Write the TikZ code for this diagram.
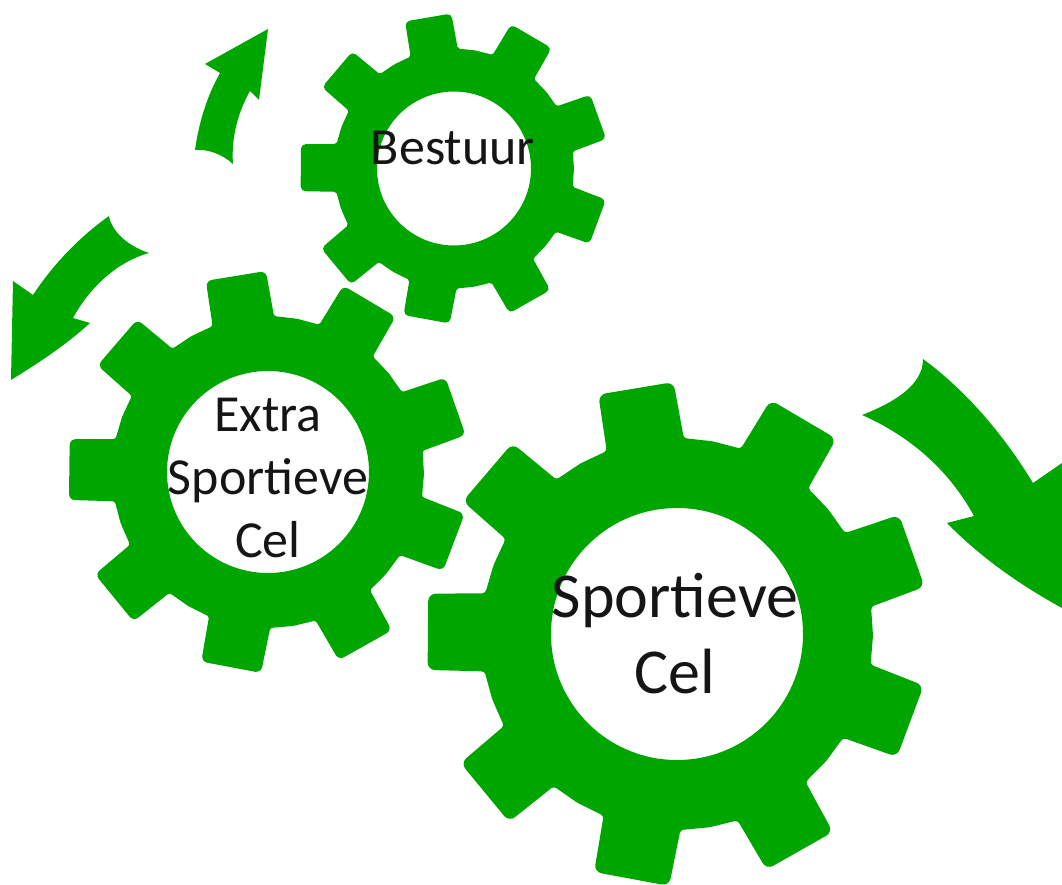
\documentclass[tikz,border=0pt]{standalone}
\usepackage{fontspec}
\setmainfont{Carlito}
\definecolor{gearGreen}{HTML}{00A600}
\definecolor{labelInk}{HTML}{151515}
\tikzset{
  gearbody/.style={fill=gearGreen,even odd rule},
  turnarrow/.style={fill=gearGreen},
  gearlabel/.style={text=labelInk,align=center,inner sep=0pt},
}
% cx, cy, hole radius, tip radius, root radius, rotation
\newcommand{\geardraw}[6]{%
  \begin{scope}[shift={(#1,#2)}]
    \pgfmathsetmacro{\crn}{#4*0.03}
    \pgfmathsetmacro{\crnin}{#4*0.012}
    \fill[gearbody] (-#6-20:#5)
      \foreach \i [evaluate=\i as \a using {-#6+40*\i}] in {0,...,8} {
        [rounded corners=\crnin pt] -- (\a-11.5:#5)
        [rounded corners=\crn pt] -- (\a-8.7:#4) -- (\a+8.7:#4)
        [rounded corners=\crnin pt] -- (\a+11.5:#5) -- (\a+20:#5)
      } -- cycle (0,0) circle[radius=#3];
  \end{scope}%
}
\begin{document}
\begin{tikzpicture}[x=1pt,y=-1pt]
\useasboundingbox (0,0) rectangle (1062,885);
\geardraw{454}{168.5}{77}{155}{120}{179.7}
\geardraw{268}{472}{101}{201}{156}{179.3}
\geardraw{677}{634}{126}{252}{196}{179.5}
% arrows
\fill[turnarrow] (268,29) -- (259,100) -- (250,91)
  .. controls (238,112) and (231,138) .. (233,164)
  .. controls (222,154) and (208,149) .. (195,150)
  .. controls (199,122) and (207,96) .. (220,73)
  -- (205,64) -- cycle;
\fill[turnarrow] (109,216) .. controls (112,232) and (128,246) .. (149,253)
  .. controls (117,262) and (90,287) .. (73,318)
  -- (90,323) .. controls (66,345) and (40,362) .. (11,380)
  -- (13,281) -- (33,295)
  .. controls (52,266) and (78,238) .. (109,216) -- cycle;
\fill[turnarrow] (923,359) .. controls (923,385) and (895,402) .. (862,415)
  .. controls (912,437) and (950,472) .. (974,516)
  -- (947,523) .. controls (980,557) and (1020,585) .. (1062,608)
  -- (1062,463) -- (1033,483)
  .. controls (1005,437) and (968,392) .. (923,359) -- cycle;
% labels
\node[gearlabel,font=\fontsize{52}{52}\selectfont,anchor=base] (bestuur) at (453,165) {Bestuur};
\node[gearlabel,font=\fontsize{52}{63}\selectfont] (extra) at (268,478) {Extra\\Sportieve\\Cel};
\node[gearlabel,font=\fontsize{64}{76}\selectfont] (sport) at (675,634) {Sportieve\\Cel};
\end{tikzpicture}
\end{document}
